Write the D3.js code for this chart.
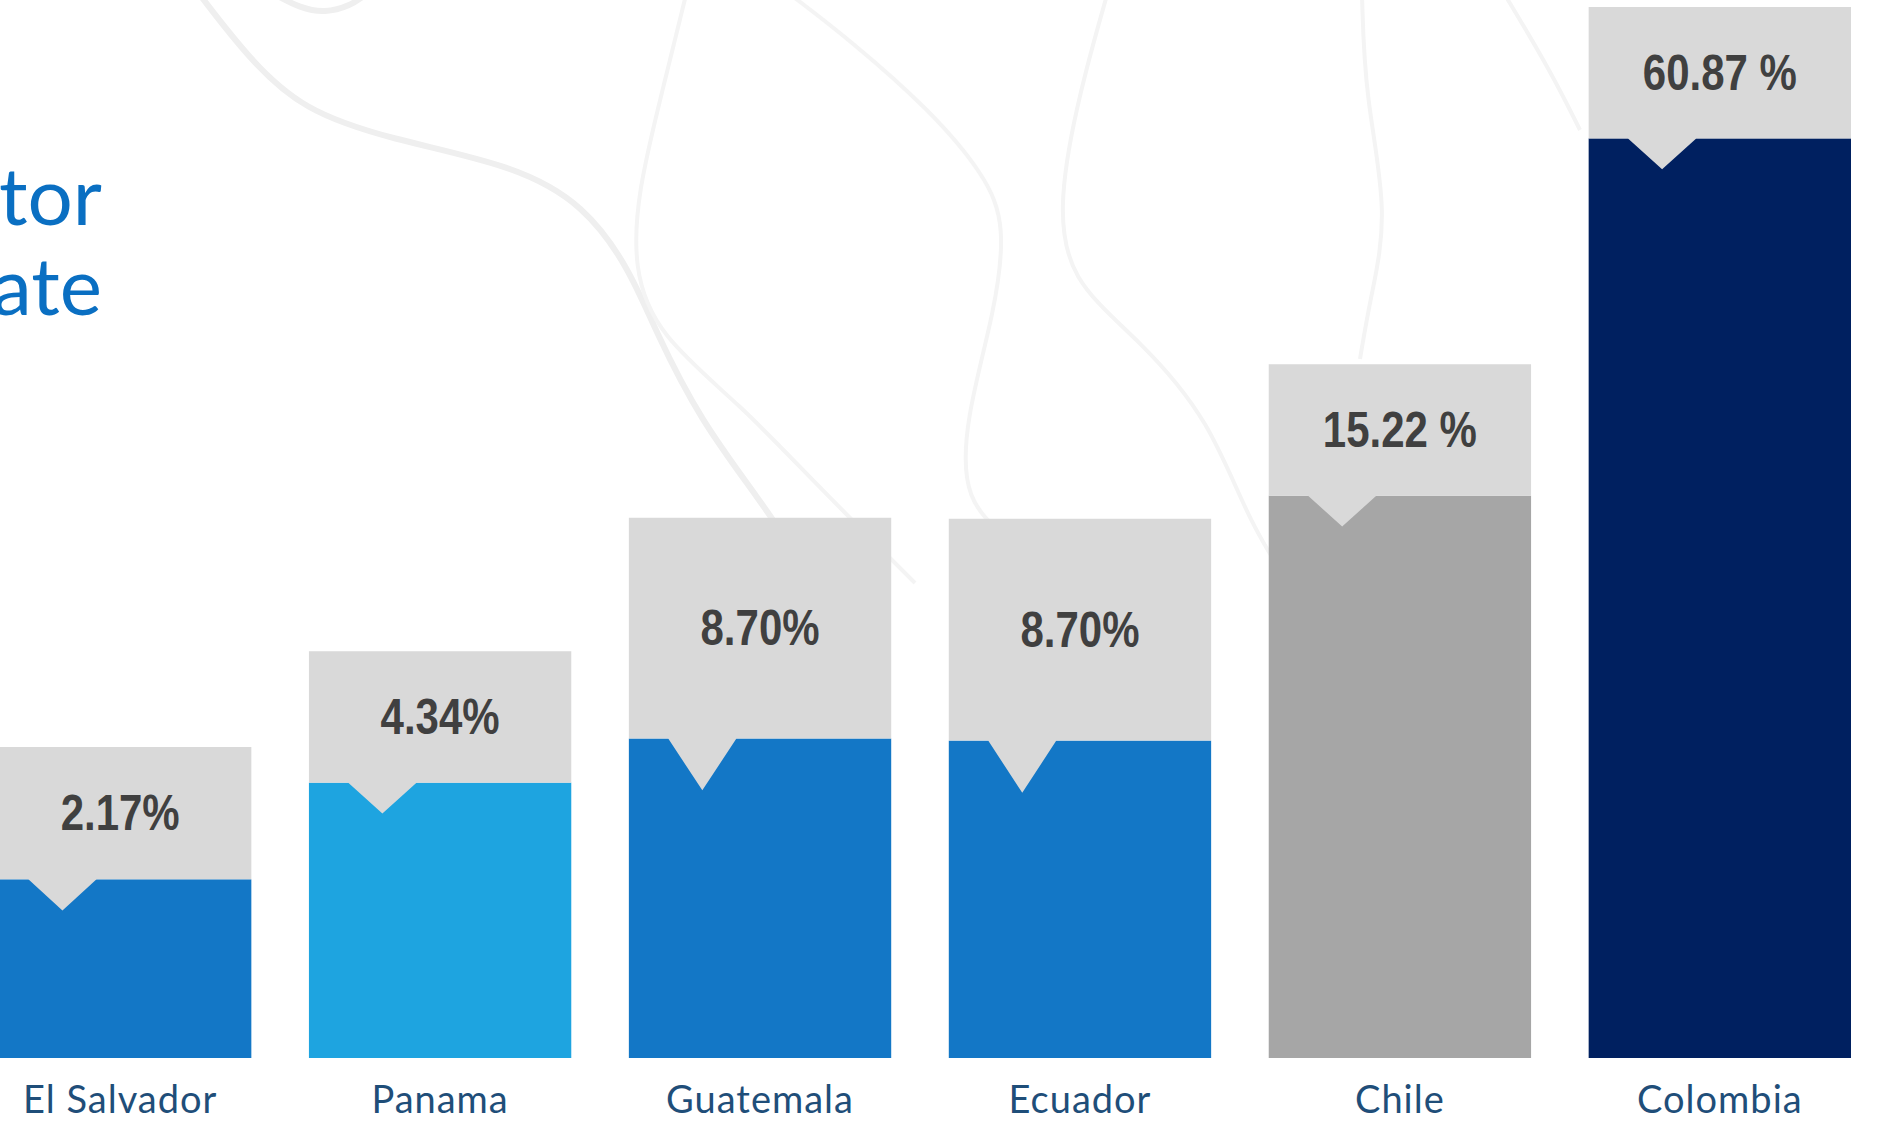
<!DOCTYPE html>
<html>
<head>
<meta charset="utf-8">
<script src="https://cdn.jsdelivr.net/npm/d3@7"></script>
<style>
  html, body { margin: 0; padding: 0; background: #ffffff; overflow: hidden; }
  #chart { width: 1884px; height: 1125px; }
</style>
</head>
<body>
<div id="chart"></div>
<script>
// values
const countries = ["El Salvador", "Panama", "Guatemala", "Ecuador", "Chile", "Colombia"];
const shares = [2.17, 4.34, 8.70, 8.70, 15.22, 60.87];
const shareLabels = ["2.17%", "4.34%", "8.70%", "8.70%", "15.22 %", "60.87 %"];
// drawn heights are not to scale in the picture, so they are kept as read (in % of plot height)
const barLevels = [17.0, 26.2, 30.4, 30.2, 53.5, 87.5];
const calloutLevels = [29.6, 38.7, 51.4, 51.3, 66.0, 100];
const palette = ["#1377c6", "#1ea4e0", "#1377c6", "#1377c6", "#a6a6a6", "#002060"];
const titleLines = ["tor", "ate"];

const width = 1884, height = 1125;

const svg = d3.select("#chart")
  .append("svg")
  .attr("width", width)
  .attr("height", height)
  .attr("viewBox", [0, 0, width, height]);

// faint map-like contours in the background
const contours = [
  [[200, -5], [250, 60], [303, 110], [389, 139], [514, 165], [585, 205], [630, 270], [655, 330], [700, 420], [760, 500], [800, 560]],
  [[276, -5], [300, 8], [325, 13], [350, 6], [365, -5]],
  [[686, -5], [660, 100], [638, 191], [633, 268], [657, 335], [743, 407], [810, 478], [915, 583]],
  [[791, -5], [850, 40], [930, 110], [985, 175], [1006, 225], [995, 311], [965, 420], [963, 502], [1011, 540]],
  [[1107, -5], [1080, 90], [1058, 200], [1068, 280], [1140, 340], [1210, 420], [1250, 526], [1300, 600]],
  [[1362, -5], [1365, 96], [1389, 215], [1370, 300], [1360, 359]],
  [[1505, -5], [1550, 70], [1580, 130]]
];
const contourLine = d3.line().curve(d3.curveBasis);
svg.append("g")
  .selectAll("path")
  .data(contours)
  .join("path")
  .attr("d", contourLine)
  .attr("fill", "none")
  .attr("stroke", (d, i) => i < 2 ? "#efefef" : "#f4f4f4")
  .attr("stroke-width", (d, i) => i < 2 ? 6 : 4);

// partial title cut by the left edge (as in the original slide)
svg.append("g")
  .selectAll("text")
  .data(titleLines)
  .join("text")
  .attr("x", 102)
  .attr("y", (d, i) => 225 + i * 90)
  .attr("text-anchor", "end")
  .style("font-family", "Lato, 'Noto Sans', sans-serif")
  .style("font-size", "80px")
  .style("fill", "#0a6fc2")
  .text(d => d);

const x = d3.scaleBand()
  .domain(countries)
  .range([-11, 1851])
  .paddingInner(0.18)
  .paddingOuter(0);

const y = d3.scaleLinear()
  .domain([0, 100])
  .range([1058, 7]);

const color = d3.scaleOrdinal()
  .domain(countries)
  .range(palette);

const data = countries.map((c, i) => ({
  country: c,
  share: shares[i],
  label: shareLabels[i],
  bar: barLevels[i],
  callout: calloutLevels[i]
}));

const bw = x.bandwidth();

// bars
svg.append("g")
  .selectAll("rect")
  .data(data)
  .join("rect")
  .attr("x", d => x(d.country))
  .attr("y", d => y(d.bar))
  .attr("width", bw)
  .attr("height", d => y(0) - y(d.bar))
  .attr("fill", d => color(d.country));

// callout boxes with a pointer going down into the bar
const callouts = svg.append("g")
  .selectAll("g")
  .data(data)
  .join("g");

callouts.append("path")
  .attr("d", d => {
    const x0 = x(d.country), x1 = x0 + bw;
    const top = y(d.callout), bot = y(d.bar);
    const h = bot - top;
    const tip = x0 + bw * 0.28, half = bw * 0.13, depth = h * 0.235;
    return `M${x0},${top}H${x1}V${bot}H${tip + half}L${tip},${bot + depth}L${tip - half},${bot}H${x0}Z`;
  })
  .attr("fill", "#d9d9d9");

// narrow bold value text (horizontally squeezed)
callouts.append("text")
  .attr("transform", d => `translate(${x(d.country) + bw / 2},${(y(d.callout) + y(d.bar)) / 2}) scale(0.84,1)`)
  .attr("text-anchor", "middle")
  .attr("dominant-baseline", "central")
  .style("font-family", "'Liberation Sans', Arial, sans-serif")
  .style("font-weight", "bold")
  .style("font-size", "50px")
  .style("fill", "#404040")
  .text(d => d.label);

// country names under the bars
svg.append("g")
  .attr("transform", `translate(0,${y(0)})`)
  .call(d3.axisBottom(x).tickSize(0).tickPadding(0))
  .call(g => g.select(".domain").remove())
  .selectAll(".tick text")
  .attr("dy", "55px")
  .style("font-family", "Lato, 'Noto Sans', sans-serif")
  .style("font-size", "38px")
  .style("letter-spacing", "1px")
  .style("fill", "#1f4e79");
</script>
</body>
</html>
